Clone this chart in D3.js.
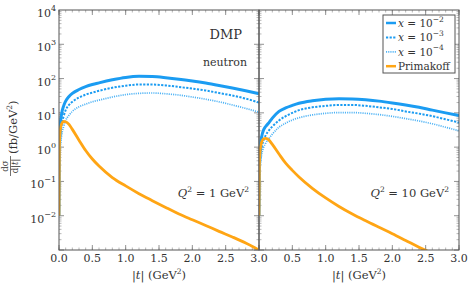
<!DOCTYPE html>
<html>
<head>
<meta charset="utf-8">
<script src="https://cdn.jsdelivr.net/npm/d3@7"></script>
<style>body{margin:0;background:#fff}</style>
</head>
<body>
<svg id="chart" width="472" height="288"></svg>
<script>
// |t| grid shared by all curves
var tVals = [0, 0.005, 0.01, 0.02, 0.04, 0.07, 0.1, 0.15, 0.2, 0.3, 0.4, 0.5, 0.6, 0.8, 1.0, 1.2, 1.4, 1.6, 1.8, 2.0, 2.2, 2.4, 2.6, 2.8, 3.0];

// Q^2 = 1 GeV^2
var q1x2 = [0.01, 0.6, 1.8, 4.5, 9.5, 16, 22, 30, 37, 48, 58, 67, 75, 92, 108, 116, 114, 106, 96, 85, 74, 63, 53, 44, 36];
var q1x3 = [0.01, 0.2, 0.6, 1.8, 4.5, 8, 12, 17, 21, 28, 34, 39, 44, 54, 62, 67, 67, 63, 57, 51, 45, 38, 32, 26, 20];
var q1x4 = [0.01, 0.1, 0.3, 0.9, 2.2, 4, 6, 8.5, 11, 15, 18, 21, 23.5, 29, 34, 37, 38, 36, 33, 29, 25, 21, 17, 13.5, 10.5];
var q1prim = [0.01, 0.8, 1.8, 3.2, 4.8, 5.6, 5.5, 4.6, 3.3, 1.6, 0.8, 0.45, 0.28, 0.13, 0.074, 0.044, 0.0275, 0.0174, 0.0112, 0.0076, 0.0052, 0.0035, 0.0024, 0.0016, 0.001];

// Q^2 = 10 GeV^2
var q10x2 = [0.01, 0.15, 0.4, 1, 2, 3.2, 4, 5.2, 7, 11, 14, 16.5, 19, 22.5, 25, 26, 25.5, 24, 22, 19.5, 17, 14.5, 12, 10, 8.3];
var q10x3 = [0.01, 0.08, 0.2, 0.5, 1, 1.6, 2.2, 3.1, 4, 6, 8, 10, 12, 14.5, 16, 17, 17, 16, 14.5, 13, 11, 9.5, 8, 6.5, 5.2];
var q10x4 = [0.01, 0.05, 0.12, 0.3, 0.6, 1, 1.3, 1.8, 2.4, 3.8, 5, 6.2, 7.2, 8.7, 9.7, 10.2, 10.2, 9.7, 8.9, 7.9, 6.8, 5.8, 4.8, 3.8, 3.0];
var q10prim = [0.01, 0.25, 0.5, 0.9, 1.4, 1.75, 1.8, 1.6, 1.2, 0.63, 0.34, 0.21, 0.135, 0.063, 0.033, 0.0186, 0.0112, 0.0071, 0.0046, 0.003, 0.0019, 0.0012, 0.0008, 0.00055, 0.0004];

var xTicksLeft = ["0.0", "0.5", "1.0", "1.5", "2.0", "2.5", "3.0"];
var xTicksRight = ["0.5", "1.0", "1.5", "2.0", "2.5", "3.0"];
var yExponents = [4, 3, 2, 1, 0, -1, -2];
var legendLabels = ["-2", "-3", "-4", "Primakoff"];

var gBlue = "#1b9cf2", gBlueLight = "#4fb3f5", gOrange = "#ffa514", gFrame = "#555", gText = "#333";
var gFont = "'DejaVu Serif', 'Liberation Serif', serif";
var gTop = 10, gBottom = 250;

var svg = d3.select("#chart");

var y = d3.scaleLog().domain([1e-3, 1e4]).range([gBottom, gTop]);

var styles = [
    {color: gBlue, width: 3, dash: null},
    {color: gBlue, width: 2, dash: "2.2,1.4"},
    {color: gBlueLight, width: 1.7, dash: "1.1,1.1"},
    {color: gOrange, width: 2.8, dash: null}
];

function minus(s) { return s.replace("-", "\u2212"); }

function panel(x0, x1, series, qLabel, id, showZero) {
    var x = d3.scaleLinear().domain([0, 3]).range([x0, x1]);

    svg.append("clipPath").attr("id", id)
        .append("rect").attr("x", x0).attr("y", gTop).attr("width", x1 - x0).attr("height", gBottom - gTop);

    var g = svg.append("g");

    // ticks
    var majors = d3.range(0, 3.01, 0.5), minors = d3.range(0, 3.01, 0.1);
    minors.forEach(function(v) {
        g.append("line").attr("x1", x(v)).attr("x2", x(v)).attr("y1", gBottom).attr("y2", gBottom - 2.5).attr("stroke", "#888").attr("stroke-width", 0.6);
        g.append("line").attr("x1", x(v)).attr("x2", x(v)).attr("y1", gTop).attr("y2", gTop + 2.5).attr("stroke", "#888").attr("stroke-width", 0.6);
    });
    majors.forEach(function(v) {
        g.append("line").attr("x1", x(v)).attr("x2", x(v)).attr("y1", gBottom).attr("y2", gBottom - 5).attr("stroke", "#777").attr("stroke-width", 0.8);
        g.append("line").attr("x1", x(v)).attr("x2", x(v)).attr("y1", gTop).attr("y2", gTop + 5).attr("stroke", "#777").attr("stroke-width", 0.8);
    });
    for (var e = -3; e < 4; e++) {
        for (var m = 1; m < 10; m++) {
            var v = m * Math.pow(10, e), len = m == 1 ? 5 : 2.5;
            [x0, x1].forEach(function(xx, k) {
                var dir = k == 0 ? 1 : -1;
                g.append("line").attr("x1", xx).attr("x2", xx + dir * len)
                    .attr("y1", y(v)).attr("y2", y(v))
                    .attr("stroke", m == 1 ? "#777" : "#888").attr("stroke-width", m == 1 ? 0.8 : 0.6);
            });
        }
    }

    var line = d3.line()
        .x(function(d) { return x(d[0]); })
        .y(function(d) { return y(d[1]); })
        .curve(d3.curveMonotoneX);

    var cg = svg.append("g").attr("clip-path", "url(#" + id + ")");
    series.forEach(function(vals, i) {
        cg.append("path")
            .datum(tVals.map(function(t, j) { return [t, vals[j]]; }))
            .attr("d", line)
            .attr("fill", "none")
            .attr("stroke", styles[i].color)
            .attr("stroke-width", styles[i].width)
            .attr("stroke-dasharray", styles[i].dash)
            .attr("stroke-linejoin", "round");
    });

    // frame
    svg.append("rect").attr("x", x0).attr("y", gTop).attr("width", x1 - x0).attr("height", gBottom - gTop)
        .attr("fill", "none").attr("stroke", gFrame).attr("stroke-width", 1);

    // x tick labels
    var labels = showZero ? xTicksLeft : xTicksRight;
    svg.selectAll(null).data(labels).enter().append("text")
        .attr("x", function(d) { return x(+d); })
        .attr("y", 262)
        .attr("text-anchor", "middle")
        .attr("font-family", gFont).attr("font-size", "11px").attr("fill", gText)
        .text(function(d) { return d; });

    // x axis label
    var xl = svg.append("text").attr("x", (x0 + x1) / 2).attr("y", 279)
        .attr("text-anchor", "middle").attr("font-family", gFont).attr("font-size", "11.5px").attr("fill", gText);
    xl.append("tspan").text("|");
    xl.append("tspan").attr("font-style", "italic").text("t");
    xl.append("tspan").text("|  (GeV");
    xl.append("tspan").attr("dy", -5).attr("font-size", "7.5px").text("2");
    xl.append("tspan").attr("dy", 5).text(")");

    // Q^2 label
    var ql = svg.append("text").attr("x", x1 - 10).attr("y", 197)
        .attr("text-anchor", "end").attr("font-family", gFont).attr("font-size", "11.5px").attr("fill", gText);
    ql.append("tspan").attr("font-style", "italic").text("Q");
    ql.append("tspan").attr("dy", -5).attr("font-size", "7.5px").text("2");
    ql.append("tspan").attr("dy", 5).text(" = " + qLabel + " GeV");
    ql.append("tspan").attr("dy", -5).attr("font-size", "7.5px").text("2");

    return x;
}

panel(59, 259, [q1x2, q1x3, q1x4, q1prim], "1", "clipL", true);
panel(259, 459, [q10x2, q10x3, q10x4, q10prim], "10", "clipR", false);

// y tick labels
yExponents.forEach(function(e) {
    var t = svg.append("text").attr("x", 56).attr("y", y(Math.pow(10, e)) + 7)
        .attr("text-anchor", "end").attr("font-family", gFont).attr("font-size", "11px").attr("fill", gText);
    t.append("tspan").text("10");
    t.append("tspan").attr("dy", -6).attr("font-size", "8px").text(minus(String(e)));
});

// y axis label
var yl = svg.append("g").attr("transform", "translate(14,135) rotate(-90)");
yl.append("text").attr("x", -31).attr("y", -6).attr("text-anchor", "middle")
    .attr("font-family", gFont).attr("font-size", "8.5px").attr("fill", gText).text("d\u03c3");
yl.append("line").attr("x1", -41).attr("x2", -21).attr("y1", -3.5).attr("y2", -3.5).attr("stroke", gText).attr("stroke-width", 0.7);
var den = yl.append("text").attr("x", -31).attr("y", 4).attr("text-anchor", "middle")
    .attr("font-family", gFont).attr("font-size", "8.5px").attr("fill", gText);
den.append("tspan").text("d|");
den.append("tspan").attr("font-style", "italic").text("t");
den.append("tspan").text("|");
var unit = yl.append("text").attr("x", -19).attr("y", 3).attr("font-family", gFont).attr("font-size", "11.5px").attr("fill", gText);
unit.append("tspan").text("(fb/GeV");
unit.append("tspan").attr("dy", -5).attr("font-size", "7.5px").text("2");
unit.append("tspan").attr("dy", 5).text(")");

// DMP / neutron
svg.append("text").attr("x", 242).attr("y", 39).attr("text-anchor", "end")
    .attr("font-family", gFont).attr("font-size", "13px").attr("fill", gText).text("DMP");
svg.append("text").attr("x", 247).attr("y", 66).attr("text-anchor", "end")
    .attr("font-family", gFont).attr("font-size", "11px").attr("fill", gText).text("neutron");

// legend
var lg = svg.append("g");
lg.append("rect").attr("x", 383).attr("y", 15).attr("width", 72).attr("height", 58)
    .attr("fill", "white").attr("stroke", gFrame).attr("stroke-width", 1);
legendLabels.forEach(function(lab, i) {
    var ry = 23 + i * 14.4;
    lg.append("line").attr("x1", 386).attr("x2", 396).attr("y1", ry).attr("y2", ry)
        .attr("stroke", styles[i].color).attr("stroke-width", Math.min(styles[i].width, 2.5))
        .attr("stroke-dasharray", styles[i].dash);
    var tx = lg.append("text").attr("x", 398).attr("y", ry + 4)
        .attr("font-family", gFont).attr("font-size", "10.5px").attr("fill", gText);
    if (i < 3) {
        tx.append("tspan").attr("font-style", "italic").text("x");
        tx.append("tspan").text(" = 10");
        tx.append("tspan").attr("dy", -5.5).attr("font-size", "7.5px").text(minus(lab));
    } else {
        tx.text(lab);
    }
});
</script>
</body>
</html>
